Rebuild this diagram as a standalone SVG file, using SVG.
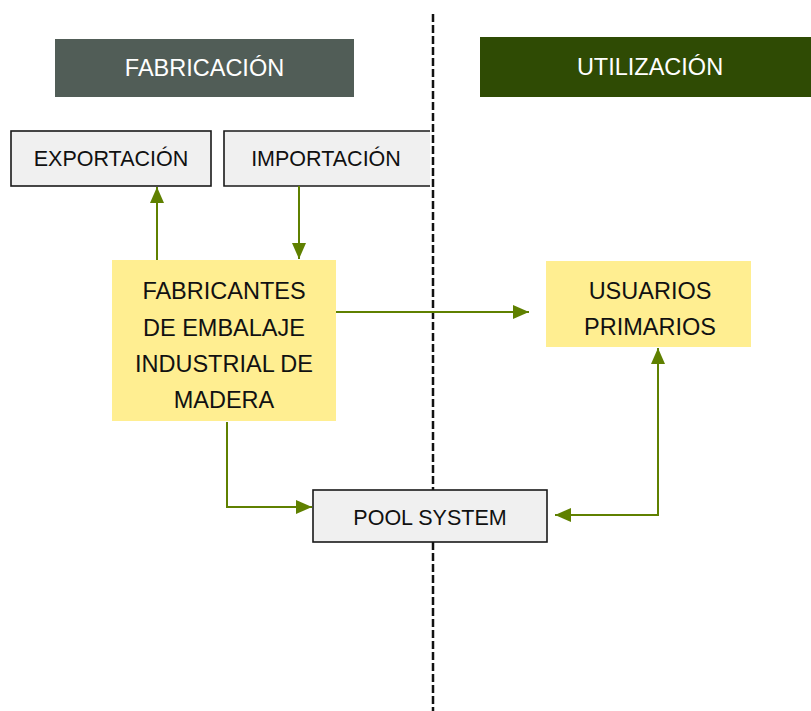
<svg xmlns="http://www.w3.org/2000/svg" width="811" height="711" viewBox="0 0 811 711">
<defs>
<style>
text{font-family:"Liberation Sans",Arial,sans-serif;text-anchor:middle;dominant-baseline:central}
.hdr{fill:#ffffff;font-size:23.5px}
.lbl{fill:#111111;font-size:21.5px}
.big{fill:#111111;font-size:23.5px}
.gray{fill:#f0f0f0;stroke:#1a1a1a;stroke-width:1.6}
.yel{fill:#ffee91}
.con{fill:none;stroke:#5f8000;stroke-width:2}
</style>
<marker id="ah" viewBox="0 0 16 14" refX="16" refY="7" markerWidth="16" markerHeight="14" markerUnits="userSpaceOnUse" orient="auto-start-reverse">
<path d="M0,0 L16,7 L0,14 Z" fill="#5f8000"/>
</marker>
</defs>
<rect width="811" height="711" fill="#ffffff"/>
<line id="divider" x1="433" y1="14" x2="433" y2="711" stroke="#111111" stroke-width="2.5" stroke-dasharray="8,3"/>
<g id="hdr-fabricacion">
<rect x="55" y="39" width="299" height="58" fill="#515d57"/>
<text class="hdr" x="204.5" y="68">FABRICACIÓN</text>
</g>
<g id="hdr-utilizacion">
<rect x="480" y="37" width="331" height="60" fill="#2f4b04"/>
<text class="hdr" x="650" y="67">UTILIZACIÓN</text>
</g>
<g id="exportacion">
<rect class="gray" x="11" y="131" width="200" height="55"/>
<text class="lbl" x="111" y="159">EXPORTACIÓN</text>
</g>
<g id="importacion">
<rect x="224" y="131" width="206" height="55" fill="#f0f0f0"/>
<path d="M430,131 H224 V186 H430" fill="none" stroke="#1a1a1a" stroke-width="1.6"/>
<text class="lbl" x="326" y="159">IMPORTACIÓN</text>
</g>
<g id="fabricantes">
<rect class="yel" x="112" y="260" width="224" height="161"/>
<text class="big" x="224" y="291">FABRICANTES</text>
<text class="big" x="224" y="328">DE EMBALAJE</text>
<text class="big" x="224" y="364">INDUSTRIAL DE</text>
<text class="big" x="224" y="400">MADERA</text>
</g>
<g id="usuarios">
<rect class="yel" x="546" y="261" width="205" height="86"/>
<text class="big" x="650" y="291">USUARIOS</text>
<text class="big" x="650" y="327">PRIMARIOS</text>
</g>
<g id="pool">
<rect class="gray" x="313" y="490" width="234" height="52"/>
<text class="lbl" x="430" y="518">POOL SYSTEM</text>
</g>
<g id="connectors">
<path class="con" d="M157,260 V187" marker-end="url(#ah)"/>
<path class="con" d="M299,186 V259" marker-end="url(#ah)"/>
<path class="con" d="M336,312 H529" marker-end="url(#ah)"/>
<path class="con" d="M227,422 V507 H312" marker-end="url(#ah)"/>
<path class="con" d="M555,515 H658 V348" marker-start="url(#ah)" marker-end="url(#ah)"/>
</g>
</svg>
